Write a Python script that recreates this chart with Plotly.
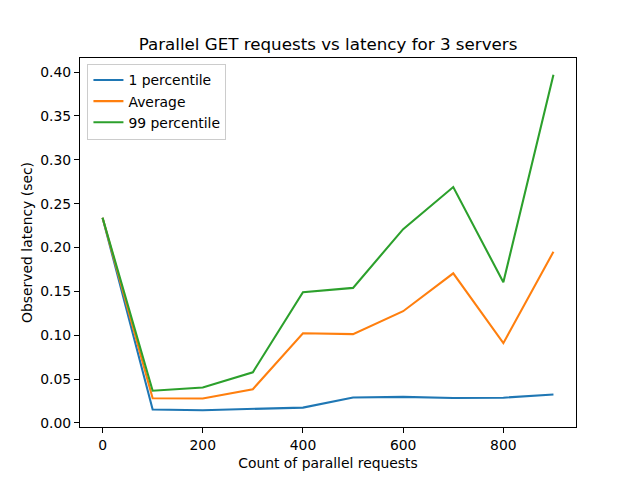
import plotly.graph_objects as go

x_counts = [0, 100, 200, 300, 400, 500, 600, 700, 800, 900]
p1 = [0.234, 0.0153, 0.0145, 0.0163, 0.0175, 0.0290, 0.0297, 0.0285, 0.0288, 0.0325]
avg = [0.234, 0.0282, 0.0278, 0.0385, 0.1022, 0.1013, 0.1274, 0.1706, 0.0910, 0.1952]
p99 = [0.234, 0.0367, 0.0405, 0.0578, 0.1490, 0.1540, 0.2210, 0.2690, 0.1604, 0.3970]
names = ["1 percentile", "Average", "99 percentile"]
colors = ["#1f77b4", "#ff7f0e", "#2ca02c"]
x_ticks = [0, 200, 400, 600, 800]
y_ticks = [0.00, 0.05, 0.10, 0.15, 0.20, 0.25, 0.30, 0.35, 0.40]

fig = go.Figure()
for name, ys, c in zip(names, [p1, avg, p99], colors):
    fig.add_trace(go.Scatter(x=x_counts, y=ys, mode="lines", name=name,
                             line=dict(color=c, width=2.08)))

allv = p1 + avg + p99
ymin, ymax = min(allv), max(allv)
ym = (ymax - ymin) * 0.05
xm = (max(x_counts) - min(x_counts)) * 0.05

font = "DejaVu Sans"
axis_common = dict(showline=True, linecolor="black", linewidth=1, mirror=True,
                   ticks="outside", ticklen=5, tickwidth=1, tickcolor="black",
                   showgrid=False, zeroline=False, automargin=False,
                   tickfont=dict(family=font, size=13.9, color="black"))

# page body has an 8px margin, so the figure is sized/offset to compensate
W, H = 632, 472
fig.update_layout(
    width=W, height=H,
    margin=dict(l=72, r=64, t=49.6, b=52.8, autoexpand=False),
    paper_bgcolor="white", plot_bgcolor="white",
    title=dict(text="Parallel GET requests vs latency for 3 servers",
               x=0.5, xanchor="center", xref="paper", y=1 - 36 / H, yref="container",
               yanchor="middle",
               font=dict(family=font, size=16.7, color="black")),
    xaxis=dict(range=[min(x_counts) - xm, max(x_counts) + xm], tickvals=x_ticks,
               title=dict(text="Count of parallel requests", standoff=6,
                          font=dict(family=font, size=13.9, color="black")),
               **axis_common),
    yaxis=dict(range=[ymin - ym, ymax + ym], tickvals=y_ticks, tickformat=".2f",
               title=dict(text="Observed latency (sec)", standoff=4,
                          font=dict(family=font, size=13.9, color="black")),
               **axis_common),
    legend=dict(x=0.015, y=0.985, xanchor="left", yanchor="top",
                bgcolor="rgba(255,255,255,0.8)", bordercolor="#cccccc", borderwidth=1,
                font=dict(family=font, size=13.9, color="black"),
                tracegroupgap=0),
    showlegend=True,
)

fig.write_html("out.html")
